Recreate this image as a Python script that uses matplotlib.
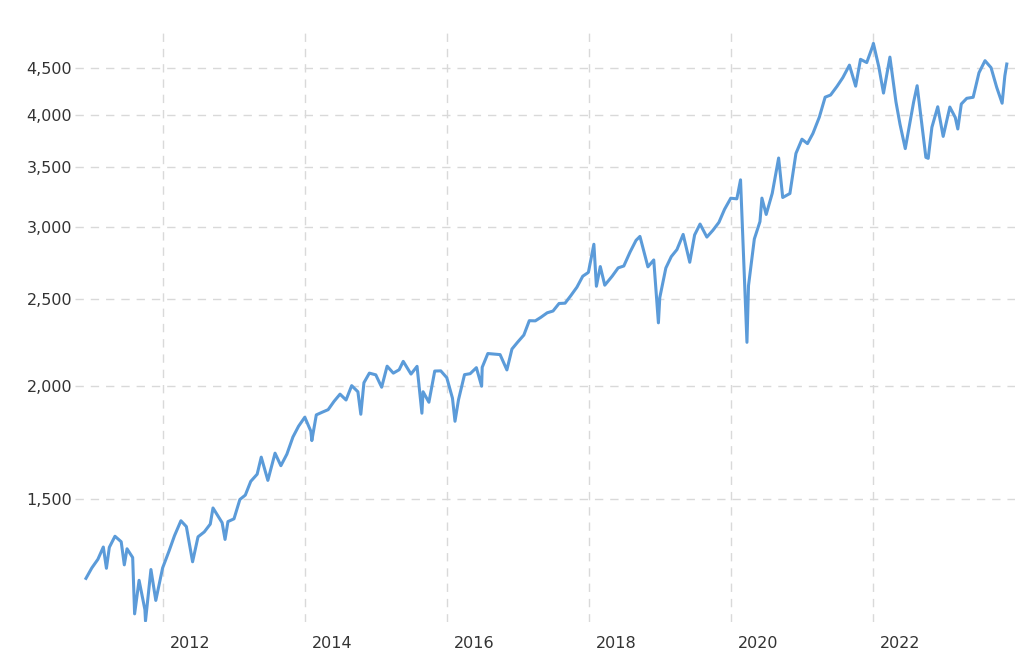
import matplotlib
matplotlib.use("Agg")
import matplotlib.pyplot as plt
import matplotlib.transforms as mtransforms
import pandas as pd

dates = [
"2010-12-01","2010-12-31",
"2011-01-31","2011-02-28","2011-03-16","2011-03-31","2011-04-29","2011-05-31","2011-06-16","2011-06-30","2011-07-29","2011-08-08","2011-08-31","2011-09-30","2011-10-03","2011-10-31","2011-11-25","2011-12-30",
"2012-01-31","2012-02-29","2012-04-02","2012-04-30","2012-06-01","2012-06-29","2012-07-31","2012-08-31","2012-09-14","2012-10-31","2012-11-15","2012-11-30","2012-12-31",
"2013-01-31","2013-02-28","2013-03-28","2013-04-30","2013-05-21","2013-06-24","2013-07-31","2013-08-30","2013-09-30","2013-10-31","2013-11-29","2013-12-31",
"2014-01-31","2014-02-05","2014-02-28","2014-03-31","2014-04-30","2014-05-30","2014-06-30","2014-07-31","2014-08-29","2014-09-30","2014-10-15","2014-10-31","2014-11-28","2014-12-31",
"2015-01-30","2015-02-27","2015-03-31","2015-04-30","2015-05-21","2015-06-30","2015-07-31","2015-08-25","2015-08-31","2015-09-30","2015-10-30","2015-11-30","2015-12-31",
"2016-01-29","2016-02-11","2016-02-29","2016-03-31","2016-04-29","2016-05-31","2016-06-27","2016-06-30","2016-07-29","2016-08-31","2016-09-30","2016-11-04","2016-11-30","2016-12-30",
"2017-01-31","2017-02-28","2017-03-31","2017-04-28","2017-05-31","2017-06-30","2017-07-31","2017-08-31","2017-09-29","2017-10-31","2017-11-30","2017-12-29",
"2018-01-26","2018-02-08","2018-02-28","2018-03-23","2018-04-30","2018-05-31","2018-06-29","2018-07-31","2018-08-31","2018-09-20","2018-10-31","2018-11-30","2018-12-24","2018-12-31",
"2019-01-31","2019-02-28","2019-03-29","2019-04-30","2019-06-03","2019-06-28","2019-07-26","2019-08-30","2019-09-30","2019-10-31","2019-11-29","2019-12-31",
"2020-01-31","2020-02-19","2020-03-23","2020-03-31","2020-04-30","2020-05-29","2020-06-08","2020-06-30","2020-07-31","2020-09-02","2020-09-23","2020-10-30","2020-11-30","2020-12-31",
"2021-01-29","2021-02-26","2021-03-31","2021-04-30","2021-05-28","2021-06-30","2021-07-30","2021-09-02","2021-10-04","2021-10-29","2021-11-30","2021-12-31",
"2022-01-03","2022-01-31","2022-02-24","2022-03-29","2022-04-29","2022-05-20","2022-06-16","2022-07-29","2022-08-16","2022-09-30","2022-10-12","2022-10-31","2022-11-30","2022-12-28",
"2023-01-31","2023-02-28","2023-03-13","2023-03-31","2023-04-28","2023-05-31","2023-06-30","2023-07-31","2023-08-31","2023-09-29","2023-10-27","2023-11-10","2023-11-20",
]
values = [
1225,1258,
1286,1327,1257,1326,1364,1345,1268,1321,1292,1119,1219,1131,1099,1253,1158,1258,
1312,1366,1419,1398,1278,1362,1379,1407,1466,1412,1353,1416,1426,
1498,1515,1569,1598,1669,1573,1686,1633,1682,1757,1806,1848,
1783,1741,1859,1872,1884,1924,1960,1931,2003,1972,1862,2018,2068,2059,
1995,2105,2068,2086,2131,2063,2104,1867,1972,1920,2079,2080,2044,
1940,1829,1932,2060,2065,2097,2000,2099,2174,2171,2168,2085,2199,2239,
2279,2364,2363,2384,2412,2423,2470,2472,2519,2575,2648,2674,
2873,2581,2714,2588,2648,2705,2718,2816,2902,2931,2712,2760,2351,2507,
2704,2784,2834,2946,2744,2942,3025,2926,2977,3038,3141,3231,
3226,3386,2237,2585,2912,3044,3232,3100,3271,3580,3237,3270,3622,3756,
3714,3811,3973,4181,4204,4298,4395,4537,4300,4605,4567,4766,
4796,4516,4225,4631,4132,3901,3667,4130,4305,3586,3577,3872,4080,3783,
4077,3970,3855,4109,4169,4180,4450,4589,4508,4288,4117,4415,4550,
]

x = pd.to_datetime(pd.Series(dates))
xdec = (x.dt.year + (x.dt.dayofyear - 1) / 365.25).to_numpy()

fig = plt.figure(figsize=(10.24, 6.56), dpi=100)
ax = fig.add_axes([75/1024, 34/656, 940/1024, 594/656])
ax.plot(xdec, values, color="#5b9bd9", lw=2.2)
ax.set_yscale("log")
ax.set_ylim(1096, 4988)
ax.set_xlim(2010.76, 2024.0)

yt = [1500, 2000, 2500, 3000, 3500, 4000, 4500]
ax.set_yticks(yt)
ax.set_yticklabels([f"{v:,}" for v in yt])
ax.minorticks_off()
xt = [2012, 2014, 2016, 2018, 2020, 2022]
ax.set_xticks(xt)
ax.set_xticklabels([str(v) for v in xt])
ax.tick_params(length=0, labelsize=11.5, colors="#333333")
ax.tick_params(axis="y", pad=2)
ax.tick_params(axis="x", pad=10)
off = mtransforms.ScaledTranslation(27/100, 0, fig.dpi_scale_trans)
for lab in ax.get_xticklabels():
    lab.set_transform(lab.get_transform() + off)
ax.grid(True, ls=(0, (6, 5)), color="#d9d9d9", lw=1)
for s in ax.spines.values():
    s.set_visible(False)
fig.savefig("out.png", dpi=100)
